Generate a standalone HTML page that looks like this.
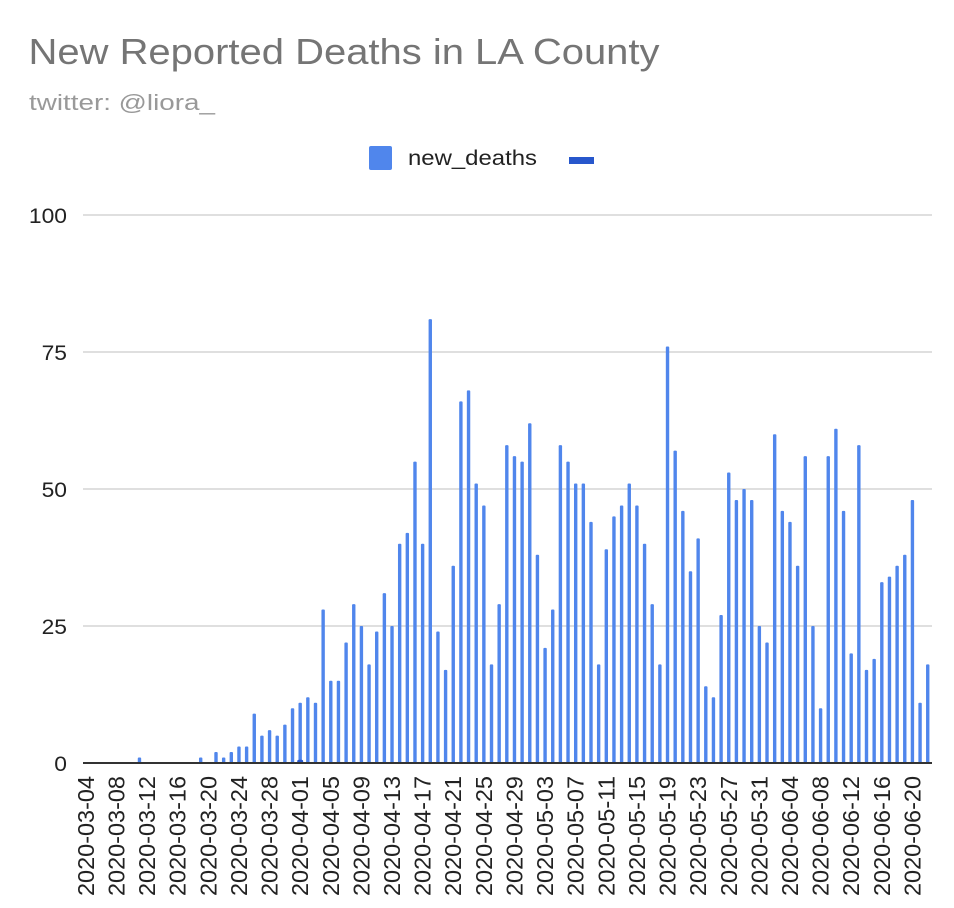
<!DOCTYPE html>
<html><head><meta charset="utf-8"><style>
html,body{margin:0;padding:0;background:#fff;}
svg{display:block;font-family:"Liberation Sans",Arial,sans-serif;}
</style></head><body>
<svg id="chart" width="954" height="908" viewBox="0 0 954 908">
<text x="28.5" y="64" font-size="36" fill="#757575" textLength="631" lengthAdjust="spacingAndGlyphs">New Reported Deaths in LA County</text>
<text x="29" y="110" font-size="22" fill="#999999" textLength="186" lengthAdjust="spacingAndGlyphs">twitter: @liora_</text>
<g>
<rect x="369" y="146" width="23" height="24" rx="2" fill="#5086ec"/>
<text x="408" y="165" font-size="21" fill="#222" textLength="129" lengthAdjust="spacingAndGlyphs">new_deaths</text>
<rect x="569" y="157" width="25" height="7" fill="#2757cc"/>
</g>
<g id="grid"></g>
<g id="bars"></g>
<g id="xlabels"></g>
</svg>
<script>
const yTicks = [0, 25, 50, 75, 100];
const startDate = "2020-03-04";
const early = [0,0,0,0,0,0,0,1,0,0,0,0,0,0,0,1,0];
const later = [2,1,2,3,3,9,5,6,5,7,10,11,12,11,28,15,15,22,29,25,18,24,
31,25,40,42,55,40,81,24,17,36,66,68,51,47,18,29,58,56,55,62,38,21,28,58,55,51,51,44,18,39,
45,47,51,47,40,29,18,76,57,46,35,41,14,12,27,53,48,50,48,25,22,60,46,44,36,56,25,10,56,61,
46,20,58,17,19,33,34,36,38,48,11,18];
const newDeaths = early.concat(later);
const series2 = newDeaths.map((v,i)=> i===28 ? 0.4 : 0);

const NS="http://www.w3.org/2000/svg";
const left=83,right=932,y0=763,y100=215;
const x0=85.9,step=7.653;
function xPos(i){return x0+i*step;}
function yPos(v){return y0-(v/100)*(y0-y100);}
function mk(tag,attrs,parent){const e=document.createElementNS(NS,tag);for(const k in attrs)e.setAttribute(k,attrs[k]);parent.appendChild(e);return e;}
const grid=document.getElementById('grid');
yTicks.forEach(t=>{
  if(t>0){const l=mk('line',{x1:left,x2:right,y1:yPos(t),y2:yPos(t),stroke:'#cccccc','stroke-width':1.3},grid);
  
  }
  const s=String(t);
  const tx=mk('text',{x:67,y:yPos(t)+8,'font-size':21,'text-anchor':'end',fill:'#222',textLength:s.length*12.7,lengthAdjust:'spacingAndGlyphs'},grid);
  tx.textContent=s;
  
  
});
const bars=document.getElementById('bars');
newDeaths.forEach((v,i)=>{
  if(v<=0)return;
  const r=mk('rect',{x:xPos(i)-1.7,y:yPos(v),width:3.4,height:y0-yPos(v),rx:1,fill:'#5086ec'},bars);
  
  
});
series2.forEach((v,i)=>{
  if(v<=0)return;
  const r=mk('rect',{x:xPos(i)-3,y:yPos(v)-1,width:6,height:y0-yPos(v)+1,rx:2,fill:'#2757cc'},bars);
  
  
});
const base=mk('line',{x1:left,x2:right,y1:y0,y2:y0,stroke:'#333','stroke-width':2},bars);


const xl=document.getElementById('xlabels');
const sd=new Date(startDate+"T00:00:00Z");
for(let i=0;i<newDeaths.length;i+=4){
  const d=new Date(sd.getTime()+i*86400000);
  const s=d.toISOString().slice(0,10);
  const x=xPos(i)+8;
  const t=mk('text',{x:x,y:776,'font-size':23,'text-anchor':'end',fill:'#222',textLength:120,lengthAdjust:'spacingAndGlyphs',transform:`rotate(-90 ${x} 776)`},xl);
  t.textContent=s;
  
  
}
</script>
</body></html>
